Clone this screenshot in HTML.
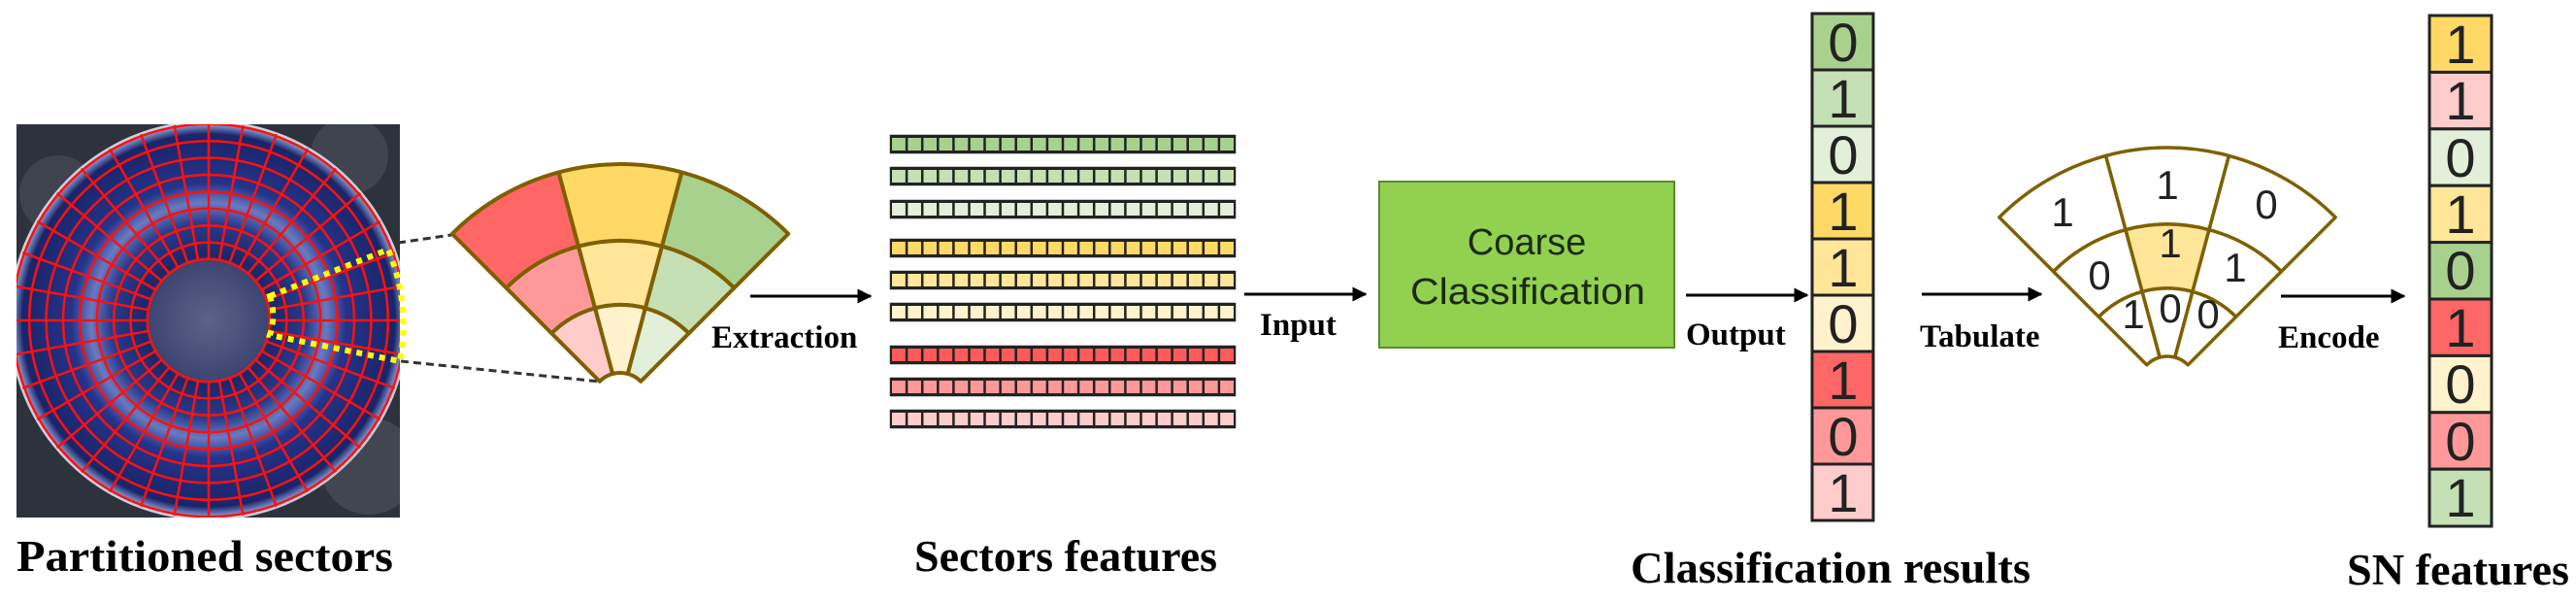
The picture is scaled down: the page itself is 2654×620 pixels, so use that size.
<!DOCTYPE html>
<html><head><meta charset="utf-8"><style>
html,body{margin:0;padding:0;background:#fff}
svg{display:block}
.lb{font-family:"Liberation Serif",serif;font-weight:bold;fill:#000}
.dg{font-family:"Liberation Sans",sans-serif;fill:#222;text-anchor:middle}
</style></head><body>
<svg width="2654" height="620" viewBox="0 0 2654 620" xmlns="http://www.w3.org/2000/svg">
<defs>
<radialGradient id="disk" cx="215" cy="330" r="202" gradientUnits="userSpaceOnUse">
<stop offset="0" stop-color="#5a6488"/><stop offset="0.3" stop-color="#3c4672"/>
<stop offset="0.33" stop-color="#1c2668"/><stop offset="0.5" stop-color="#2a3a8a"/>
<stop offset="0.6" stop-color="#6a7ac0"/><stop offset="0.7" stop-color="#25338a"/>
<stop offset="0.95" stop-color="#1a2468"/><stop offset="1" stop-color="#8a9ad0"/>
</radialGradient>
<clipPath id="pc"><rect x="17" y="128" width="395" height="405"/></clipPath>
<line id="sp" x1="0" y1="-63" x2="0" y2="-204" stroke="#ff1010" stroke-width="2.5"/>
<marker id="ah" viewBox="0 0 10 10" refX="9" refY="5" markerWidth="5" markerHeight="5" orient="auto"><path d="M0,0 L10,5 L0,10 Z" fill="#000"/></marker>
</defs>

<!-- photo -->
<rect x="17" y="128" width="395" height="405" fill="#2e323c"/>
<g clip-path="url(#pc)">
<circle cx="60" cy="200" r="40" fill="#4a4e58" opacity="0.6"/>
<circle cx="380" cy="480" r="50" fill="#555a64" opacity="0.5"/>
<circle cx="360" cy="160" r="40" fill="#505560" opacity="0.5"/>
<circle cx="215" cy="330" r="206" fill="#c8d0e0"/>
<circle cx="215" cy="330" r="202" fill="url(#disk)"/>
<g fill="none" stroke="#ff1010" stroke-width="2.5">
<circle cx="215" cy="330" r="63"/><circle cx="215" cy="330" r="80.4"/><circle cx="215" cy="330" r="97.8"/>
<circle cx="215" cy="330" r="115.2"/><circle cx="215" cy="330" r="132.6"/><circle cx="215" cy="330" r="150"/>
<circle cx="215" cy="330" r="167.4"/><circle cx="215" cy="330" r="184.8"/><circle cx="215" cy="330" r="202.2"/>
</g>
<g transform="translate(215,330)">
<use href="#sp"/><use href="#sp" transform="rotate(10)"/><use href="#sp" transform="rotate(20)"/><use href="#sp" transform="rotate(30)"/>
<use href="#sp" transform="rotate(40)"/><use href="#sp" transform="rotate(50)"/><use href="#sp" transform="rotate(60)"/><use href="#sp" transform="rotate(70)"/>
<use href="#sp" transform="rotate(80)"/><use href="#sp" transform="rotate(90)"/><use href="#sp" transform="rotate(100)"/><use href="#sp" transform="rotate(110)"/>
<use href="#sp" transform="rotate(120)"/><use href="#sp" transform="rotate(130)"/><use href="#sp" transform="rotate(140)"/><use href="#sp" transform="rotate(150)"/>
<use href="#sp" transform="rotate(160)"/><use href="#sp" transform="rotate(170)"/><use href="#sp" transform="rotate(180)"/><use href="#sp" transform="rotate(190)"/>
<use href="#sp" transform="rotate(200)"/><use href="#sp" transform="rotate(210)"/><use href="#sp" transform="rotate(220)"/><use href="#sp" transform="rotate(230)"/>
<use href="#sp" transform="rotate(240)"/><use href="#sp" transform="rotate(250)"/><use href="#sp" transform="rotate(260)"/><use href="#sp" transform="rotate(270)"/>
<use href="#sp" transform="rotate(280)"/><use href="#sp" transform="rotate(290)"/><use href="#sp" transform="rotate(300)"/><use href="#sp" transform="rotate(310)"/>
<use href="#sp" transform="rotate(320)"/><use href="#sp" transform="rotate(330)"/><use href="#sp" transform="rotate(340)"/><use href="#sp" transform="rotate(350)"/>
</g>
</g>
<path d="M278,305 L400,257 A202,202 0 0 1 412,372 L278,345 A63,63 0 0 0 278,305 Z" fill="none" stroke="#ffff00" stroke-width="6" stroke-dasharray="6,6"/>
<line x1="410" y1="250" x2="465" y2="242" stroke="#333" stroke-width="3" stroke-dasharray="8,5"/>
<line x1="413" y1="372" x2="618" y2="393" stroke="#333" stroke-width="3" stroke-dasharray="8,5"/>

<!-- left fan -->
<g transform="translate(639,414)" stroke="#7f6000" stroke-width="4" stroke-linejoin="round">
<path d="M-173.2,-173.2 A245,245 0 0 1 -63.4,-236.6 L-43,-160.3 A166,166 0 0 0 -117.4,-117.4 Z" fill="#ff6666"/>
<path d="M-63.4,-236.6 A245,245 0 0 1 63.4,-236.6 L43,-160.3 A166,166 0 0 0 -43,-160.3 Z" fill="#ffd966"/>
<path d="M63.4,-236.6 A245,245 0 0 1 173.2,-173.2 L117.4,-117.4 A166,166 0 0 0 43,-160.3 Z" fill="#a9d18e"/>
<path d="M-117.4,-117.4 A166,166 0 0 1 -43,-160.3 L-25.9,-96.6 A100,100 0 0 0 -70.7,-70.7 Z" fill="#ff9999"/>
<path d="M-43,-160.3 A166,166 0 0 1 43,-160.3 L25.9,-96.6 A100,100 0 0 0 -25.9,-96.6 Z" fill="#ffe699"/>
<path d="M43,-160.3 A166,166 0 0 1 117.4,-117.4 L70.7,-70.7 A100,100 0 0 0 25.9,-96.6 Z" fill="#c5e0b4"/>
<path d="M-70.7,-70.7 A100,100 0 0 1 -25.9,-96.6 L-7.8,-29 A30,30 0 0 0 -21.2,-21.2 Z" fill="#ffcccc"/>
<path d="M-25.9,-96.6 A100,100 0 0 1 25.9,-96.6 L7.8,-29 A30,30 0 0 0 -7.8,-29 Z" fill="#fff2cc"/>
<path d="M25.9,-96.6 A100,100 0 0 1 70.7,-70.7 L21.2,-21.2 A30,30 0 0 0 7.8,-29 Z" fill="#e2f0d9"/>
</g>

<!-- arrows -->
<g stroke="#000" stroke-width="3" marker-end="url(#ah)">
<line x1="773" y1="305" x2="897" y2="305"/>
<line x1="1282" y1="303" x2="1407" y2="303"/>
<line x1="1737" y1="304" x2="1862" y2="304"/>
<line x1="1980" y1="303" x2="2103" y2="303"/>
<line x1="2350" y1="305" x2="2477" y2="305"/>
</g>
<text class="lb" x="733" y="358" font-size="33">Extraction</text>
<text class="lb" x="1298" y="345" font-size="33">Input</text>
<text class="lb" x="1737" y="355" font-size="33">Output</text>
<text class="lb" x="1978" y="357" font-size="33">Tabulate</text>
<text class="lb" x="2347" y="358" font-size="33">Encode</text>

<!-- feature strips -->
<g stroke="#222" stroke-width="2.5">
<rect x="918" y="140" width="354" height="17" fill="#222"/>
<rect x="918" y="173" width="354" height="17" fill="#222"/>
<rect x="918" y="207" width="354" height="17" fill="#222"/>
<rect x="918" y="247" width="354" height="17" fill="#222"/>
<rect x="918" y="280" width="354" height="17" fill="#222"/>
<rect x="918" y="313" width="354" height="17" fill="#222"/>
<rect x="918" y="357" width="354" height="17" fill="#222"/>
<rect x="918" y="390" width="354" height="17" fill="#222"/>
<rect x="918" y="423" width="354" height="17" fill="#222"/>
</g>
<g>
<rect x="919" y="142" width="352" height="13" fill="#a9d18e"/>
<rect x="919" y="175" width="352" height="13" fill="#c5e0b4"/>
<rect x="919" y="209" width="352" height="13" fill="#e2f0d9"/>
<rect x="919" y="249" width="352" height="13" fill="#ffd966"/>
<rect x="919" y="282" width="352" height="13" fill="#ffe699"/>
<rect x="919" y="315" width="352" height="13" fill="#fff2cc"/>
<rect x="919" y="359" width="352" height="13" fill="#ff5b5b"/>
<rect x="919" y="392" width="352" height="13" fill="#ff9999"/>
<rect x="919" y="425" width="352" height="13" fill="#ffcccc"/>
</g>
<g stroke="#222" stroke-width="2.5">
<path d="M934.1,140V157M950.2,140V157M966.3,140V157M982.4,140V157M998.5,140V157M1014.5,140V157M1030.6,140V157M1046.7,140V157M1062.8,140V157M1078.9,140V157M1095,140V157M1111.1,140V157M1127.2,140V157M1143.3,140V157M1159.4,140V157M1175.5,140V157M1191.6,140V157M1207.6,140V157M1223.7,140V157M1239.8,140V157M1255.9,140V157" id="vl"/>
</g>
<g stroke="#222" stroke-width="2.5">
<use href="#vl" y="33"/><use href="#vl" y="67"/><use href="#vl" y="107"/><use href="#vl" y="140"/>
<use href="#vl" y="173"/><use href="#vl" y="217"/><use href="#vl" y="250"/><use href="#vl" y="283"/>
</g>
<text class="lb" x="942" y="588" font-size="45" textLength="312" lengthAdjust="spacingAndGlyphs">Sectors features</text>

<!-- coarse box -->
<rect x="1421" y="187" width="304" height="171" fill="#92d050" stroke="#5a8a2a" stroke-width="2"/>
<text x="1573" y="262" font-family="Liberation Sans, sans-serif" font-size="38" fill="#1a2a10" text-anchor="middle">Coarse</text>
<text x="1574" y="313" font-family="Liberation Sans, sans-serif" font-size="38" fill="#1a2a10" text-anchor="middle" textLength="242" lengthAdjust="spacingAndGlyphs">Classification</text>

<!-- classification column -->
<g stroke="#222" stroke-width="3">
<rect x="1867" y="14" width="63" height="58" fill="#a9d18e"/>
<rect x="1867" y="72" width="63" height="58" fill="#c5e0b4"/>
<rect x="1867" y="130" width="63" height="58" fill="#e2f0d9"/>
<rect x="1867" y="188" width="63" height="58" fill="#ffd966"/>
<rect x="1867" y="246" width="63" height="58" fill="#ffe699"/>
<rect x="1867" y="304" width="63" height="58" fill="#fff2cc"/>
<rect x="1867" y="362" width="63" height="58" fill="#ff6666"/>
<rect x="1867" y="420" width="63" height="58" fill="#ff9999"/>
<rect x="1867" y="478" width="63" height="58" fill="#ffcccc"/>
</g>
<g class="dg" font-size="56">
<text x="1899" y="63">0</text><text x="1899" y="121">1</text><text x="1899" y="179">0</text>
<text x="1899" y="237">1</text><text x="1899" y="295">1</text><text x="1899" y="353">0</text>
<text x="1899" y="411">1</text><text x="1899" y="469">0</text><text x="1899" y="527">1</text>
</g>
<text class="lb" x="1680" y="600" font-size="45" textLength="412" lengthAdjust="spacingAndGlyphs">Classification  results</text>

<!-- right fan -->
<g transform="translate(2233,397)" stroke="#7f6000" stroke-width="3.5" stroke-linejoin="round" fill="#fff">
<path d="M-173.2,-173.2 A245,245 0 0 1 -63.4,-236.6 L-43,-160.3 A166,166 0 0 0 -117.4,-117.4 Z"/>
<path d="M-63.4,-236.6 A245,245 0 0 1 63.4,-236.6 L43,-160.3 A166,166 0 0 0 -43,-160.3 Z"/>
<path d="M63.4,-236.6 A245,245 0 0 1 173.2,-173.2 L117.4,-117.4 A166,166 0 0 0 43,-160.3 Z"/>
<path d="M-117.4,-117.4 A166,166 0 0 1 -43,-160.3 L-25.9,-96.6 A100,100 0 0 0 -70.7,-70.7 Z"/>
<path d="M-43,-160.3 A166,166 0 0 1 43,-160.3 L25.9,-96.6 A100,100 0 0 0 -25.9,-96.6 Z" fill="#ffe699"/>
<path d="M43,-160.3 A166,166 0 0 1 117.4,-117.4 L70.7,-70.7 A100,100 0 0 0 25.9,-96.6 Z"/>
<path d="M-70.7,-70.7 A100,100 0 0 1 -25.9,-96.6 L-7.8,-29 A30,30 0 0 0 -21.2,-21.2 Z"/>
<path d="M-25.9,-96.6 A100,100 0 0 1 25.9,-96.6 L7.8,-29 A30,30 0 0 0 -7.8,-29 Z"/>
<path d="M25.9,-96.6 A100,100 0 0 1 70.7,-70.7 L21.2,-21.2 A30,30 0 0 0 7.8,-29 Z"/>
</g>
<g class="dg" font-size="42" fill="#333">
<text x="2125" y="233">1</text><text x="2233" y="205">1</text><text x="2335" y="225">0</text>
<text x="2163" y="298">0</text><text x="2236" y="265">1</text><text x="2303" y="290">1</text>
<text x="2198" y="338">1</text><text x="2236" y="332">0</text><text x="2275" y="338">0</text>
</g>

<!-- SN column -->
<g stroke="#222" stroke-width="3">
<rect x="2503" y="16" width="64" height="58.4" fill="#ffd966"/>
<rect x="2503" y="74.4" width="64" height="58.4" fill="#ffcccc"/>
<rect x="2503" y="132.8" width="64" height="58.4" fill="#e2f0d9"/>
<rect x="2503" y="191.2" width="64" height="58.4" fill="#ffe699"/>
<rect x="2503" y="249.6" width="64" height="58.4" fill="#a9d18e"/>
<rect x="2503" y="308" width="64" height="58.4" fill="#ff6666"/>
<rect x="2503" y="366.4" width="64" height="58.4" fill="#fff2cc"/>
<rect x="2503" y="424.8" width="64" height="58.4" fill="#ff9999"/>
<rect x="2503" y="483.2" width="64" height="58.8" fill="#c5e0b4"/>
</g>
<g class="dg" font-size="56">
<text x="2535" y="65">1</text><text x="2535" y="123">1</text><text x="2535" y="182">0</text>
<text x="2535" y="240">1</text><text x="2535" y="298">0</text><text x="2535" y="357">1</text>
<text x="2535" y="415">0</text><text x="2535" y="474">0</text><text x="2535" y="532">1</text>
</g>
<text class="lb" x="2418" y="602" font-size="45" textLength="229" lengthAdjust="spacingAndGlyphs">SN  features</text>

<text class="lb" x="17" y="588" font-size="45" textLength="388" lengthAdjust="spacingAndGlyphs">Partitioned  sectors</text>
</svg>
</body></html>
